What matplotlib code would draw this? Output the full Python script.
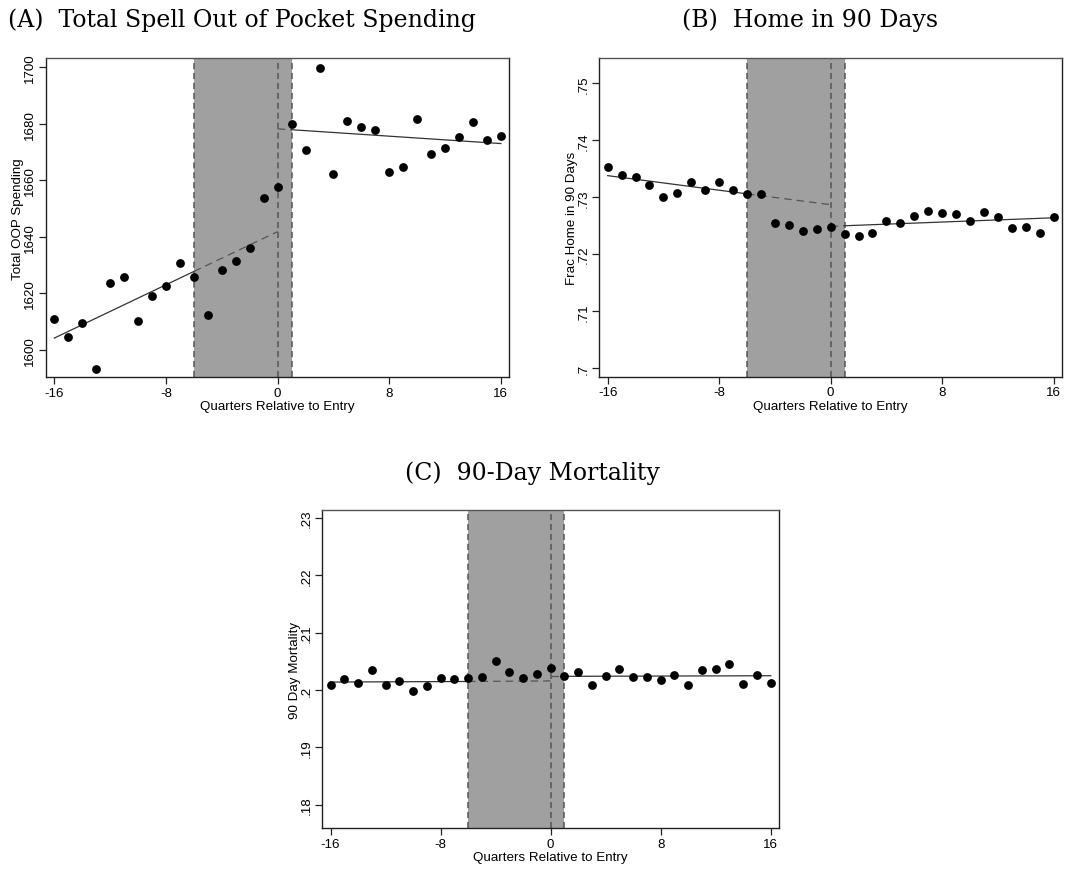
import numpy as np
import matplotlib
matplotlib.use("Agg")
import matplotlib.pyplot as plt

# ---------------- data ----------------
quarters = np.arange(-16, 17)

oop_spending = [1610.7, 1604.4, 1609.3, 1593.2, 1623.5, 1625.9, 1610.3, 1619.1, 1622.4,
                1630.8, 1625.6, 1612.3, 1628.1, 1631.3, 1635.9, 1653.6, 1657.6,
                1680.0, 1670.6, 1699.6, 1662.1, 1681.1, 1678.9, 1677.8, 1662.9,
                1664.6, 1681.6, 1669.3, 1671.5, 1675.2, 1680.5, 1674.1, 1675.8]

home_90 = [.7354, .7339, .7335, .7321, .7300, .7308, .7326, .7313, .7326,
           .7312, .7305, .7306, .7254, .7251, .7240, .7244, .7248,
           .7236, .7232, .7237, .7258, .7254, .7268, .7276, .7273,
           .7271, .7258, .7275, .7266, .7246, .7247, .7238, .7265]

mort_90 = [.2008, .2020, .2013, .2035, .2009, .2015, .1999, .2007, .2021,
           .2019, .2021, .2022, .2051, .2031, .2021, .2028, .2039,
           .2024, .2031, .2009, .2024, .2037, .2022, .2022, .2018,
           .2026, .2009, .2035, .2036, .2045, .2010, .2027, .2013]

# fitted trend lines: values at x = -16, -6, 0 (pre) and x = 0, 1, 16 (post)
pre_fit_x = [-16, -6, 0]
post_fit_x = [0, 1, 16]
oop_pre_fit = [1604.1, 1627.7, 1641.8]
oop_post_fit = [1678.2, 1677.9, 1673.0]
home_pre_fit = [.7338, .7306, .7287]
home_post_fit = [.7249, .7250, .7264]
mort_pre_fit = [.2014, .2015, .2016]
mort_post_fit = [.2024, .2024, .2025]

window = [-6, 0, 1]          # shaded window edges and entry line
x_ticks = [-16, -8, 0, 8, 16]

titles = ["(A)  Total Spell Out of Pocket Spending", "(B)  Home in 90 Days", "(C)  90-Day Mortality"]
ylabels = ["Total OOP Spending", "Frac Home in 90 Days", "90 Day Mortality"]
xlabel = "Quarters Relative to Entry"

oop_ticks = [1600, 1620, 1640, 1660, 1680, 1700]
oop_ticklabels = ["1600", "1620", "1640", "1660", "1680", "1700"]
home_ticks = [.70, .71, .72, .73, .74, .75]
home_ticklabels = [".7", ".71", ".72", ".73", ".74", ".75"]
mort_ticks = [.18, .19, .20, .21, .22, .23]
mort_ticklabels = [".18", ".19", ".2", ".21", ".22", ".23"]

# ---------------- figure ----------------
W, H = 1065, 870
fig = plt.figure(figsize=(W / 100, H / 100), dpi=100)
sans = ["Liberation Sans", "DejaVu Sans"]
serif = ["DejaVu Serif"]
FS = 9.6


def px_axes(left, top, right, bottom):
    return fig.add_axes([left / W, 1 - bottom / H, (right - left) / W, (bottom - top) / H])


def panel(ax, y, pre_fit, post_fit, yticks, yticklabels, ylim, ylabel):
    ax.set_xlim(-16.6, 16.6)
    ax.set_ylim(*ylim)
    ax.axvspan(window[0], window[2], color="#a0a0a0", lw=0, zorder=0)
    for xv in window:
        ax.axvline(xv, color="#555555", lw=1.1, ls=(0, (4, 2.5)), zorder=1)
    # trend lines
    ax.plot(pre_fit_x[:2], pre_fit[:2], color="#333333", lw=0.9, zorder=2)
    ax.plot(pre_fit_x[1:], pre_fit[1:], color="#555555", lw=0.9, ls=(0, (6, 4)), zorder=2)
    ax.plot(post_fit_x[:2], post_fit[:2], color="#555555", lw=0.9, ls=(0, (6, 4)), zorder=2)
    ax.plot(post_fit_x[1:], post_fit[1:], color="#333333", lw=0.9, zorder=2)
    ax.scatter(quarters, y, s=40, color="black", zorder=3, linewidths=0)
    ax.set_xticks(x_ticks)
    ax.set_xticklabels([str(t) for t in x_ticks], fontsize=FS, family=sans)
    ax.set_yticks(yticks)
    ax.set_yticklabels(yticklabels, fontsize=FS, family=sans, rotation=90, va="center")
    ax.tick_params(axis="both", direction="out", length=5, width=0.9, color="#222222", pad=2)
    ax.set_xlabel(xlabel, fontsize=FS, family=sans, labelpad=1)
    ax.set_ylabel(ylabel, fontsize=FS, family=sans, labelpad=0)
    for s in ax.spines.values():
        s.set_linewidth(1.0)
        s.set_color("#222222")
    ax.spines["top"].set_color("#555555")


axA = px_axes(46, 59.3, 509.3, 378.3)
panel(axA, oop_spending, oop_pre_fit, oop_post_fit, oop_ticks, oop_ticklabels,
      (1590.2, 1703.2), ylabels[0])

axB = px_axes(599.3, 59.3, 1062, 377.7)
panel(axB, home_90, home_pre_fit, home_post_fit, home_ticks, home_ticklabels,
      (.6985, .7544), ylabels[1])

axC = px_axes(322.3, 511, 779, 829.3)
panel(axC, mort_90, mort_pre_fit, mort_post_fit, mort_ticks, mort_ticklabels,
      (.1759, .2314), ylabels[2])

fig.text(242 / W, 1 - 20 / H, titles[0], ha="center", va="center", fontsize=17, family=serif)
fig.text(810 / W, 1 - 20 / H, titles[1], ha="center", va="center", fontsize=17, family=serif)
fig.text(532 / W, 1 - 473 / H, titles[2], ha="center", va="center", fontsize=17, family=serif)

fig.savefig("out.png", dpi=100, facecolor="white")
